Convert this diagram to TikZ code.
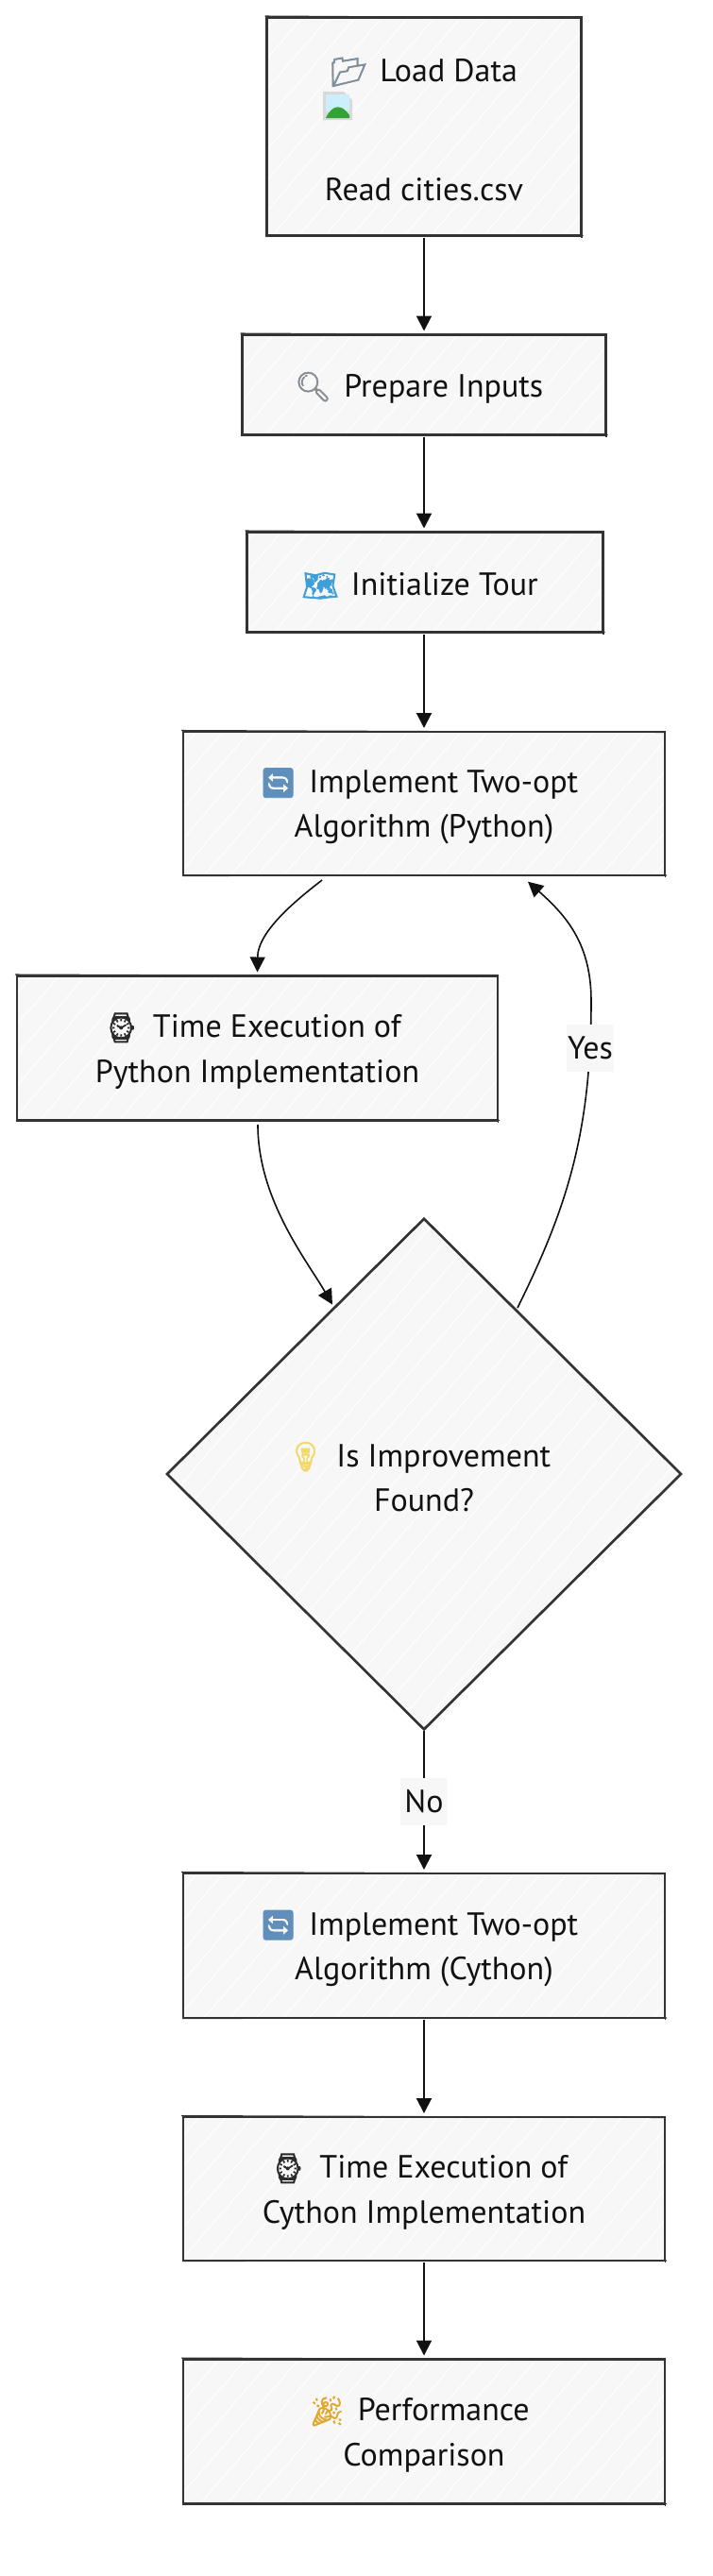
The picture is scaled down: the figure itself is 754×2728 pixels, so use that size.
\documentclass[tikz,border=0pt]{standalone}
\usepackage{fontspec}
\setmainfont{PT Sans}
\newfontfamily\emo[FakeBold=2.5]{Noto Emoji}
\usetikzlibrary{shapes.geometric,arrows.meta,calc}
\definecolor{boxfill}{HTML}{F7F7F7}
\definecolor{boxline}{HTML}{333333}
\definecolor{ink}{HTML}{111111}
\definecolor{folderc}{HTML}{7F8F9C}
\definecolor{lensc}{HTML}{8A8F96}
\definecolor{mapc}{HTML}{3F9FD8}
\definecolor{cyclec}{HTML}{5F8FBA}
\definecolor{watchc}{HTML}{2B2B2B}
\definecolor{bulbc}{HTML}{F2D86A}
\definecolor{partyc}{HTML}{E0A92E}
\newcommand{\emj}[2]{\rule{0pt}{24pt}{\emo\fontsize{23pt}{35pt}\selectfont\color{#1}#2}\hspace{10pt}}
\newcommand{\tailgap}{\hspace*{8pt}}
\newcommand{\hatchlines}{%
  \begin{scope}[shift={(path picture bounding box.center)}]
    \foreach \d in {-640,-612,...,640}
      \draw[white,line width=0.8pt] (\d-260,300) -- (\d+260,-300);
  \end{scope}}
\newcommand{\rough}[1]{%
  \draw[roughline] ([shift={(-2,-1.5)}]#1.north west) -- ([shift={(1,0.5)}]#1.north east);
  \draw[roughline] ([shift={(-1,0.5)}]#1.south west) -- ([shift={(2,0)}]#1.south east);
  \draw[roughline] ([shift={(-0.5,-1)}]#1.north west) -- ([shift={(-0.5,1)}]#1.south west);
  \draw[roughline] ([shift={(0.5,-1)}]#1.north east) -- ([shift={(0.5,2)}]#1.south east);}
\tikzset{
  roughline/.style={draw=boxline,line width=0.8pt},
  flowbox/.style={rectangle,draw=boxline,line width=1.7pt,fill=boxfill,align=center,
    inner sep=0pt,outer sep=0pt,text=ink,path picture={\hatchlines}},
  decision/.style={diamond,aspect=1,draw=boxline,line width=2pt,fill=boxfill,align=center,
    inner sep=0pt,outer sep=0pt,text=ink,minimum width=408pt,minimum height=405.5pt,path picture={\hatchlines}},
  flow/.style={draw=ink,line width=1.5pt,-{Triangle[length=12pt,width=12pt]},shorten >=3pt},
  curveflow/.style={flow,line width=1.2pt},
  edgelabel/.style={fill=boxfill,text=ink,inner sep=0pt,minimum width=37pt,minimum height=37pt}
}
\newcommand{\bx}[6]{\node[flowbox,minimum width=#4*0.75pt,minimum height=#5*0.75pt] (#1) at (#2,#3) {#6};\rough{#1}}
\begin{document}
\begin{tikzpicture}[x=0.75pt,y=-0.75pt,font=\fontsize{25.5pt}{35.5pt}\selectfont]
\path[use as bounding box,fill=white] (0,0) rectangle (754,2728);

\bx{load}{449}{134}{333}{231}{\emj{folderc}{📂}Load Data\\[59pt]Read cities.csv}
\bx{prep}{449}{407.5}{385}{106}{\emj{lensc}{🔍}Prepare Inputs\tailgap}
\bx{init}{450}{616.5}{377}{106}{\emj{mapc}{🗺}Initialize Tour\tailgap}
\bx{implpy}{449}{851}{510}{152}{\emj{cyclec}{🔄}Implement Two-opt\tailgap\\Algorithm (Python)}
\bx{timepy}{272.5}{1110}{509}{153}{\emj{watchc}{⌚}Time Execution of\tailgap\\Python Implementation}
\node[decision] (dec) at (449,1561) {\emj{bulbc}{💡}Is Improvement\tailgap\\Found?};
\bx{implcy}{449}{2060.5}{510}{153}{\emj{cyclec}{🔄}Implement Two-opt\tailgap\\Algorithm (Cython)}
\bx{timecy}{449}{2318}{510}{152}{\emj{watchc}{⌚}Time Execution of\tailgap\\Cython Implementation}
\bx{perf}{449}{2575}{510}{153}{\emj{partyc}{🎉}Performance\tailgap\\Comparison}

% broken-image icon
\fill[gray!30] (342,97) -- (364,97) -- (373,106) -- (373,127) -- (342,127) -- cycle;
\fill[cyan!20!white] (345,100) rectangle (370,118);
\fill[green!55!black!80] (345,125) .. controls (352,110) and (362,110) .. (370,122) -- (370,125) -- cycle;

\coordinate (outA) at (341,932);
\coordinate (outB) at (273,1191);
\coordinate (inB) at (354,1385);
\coordinate (outC) at (548,1385);
\coordinate (inC) at (556,931);

\draw[flow,shorten <=1.5pt] (load.south) -- (prep.north);
\draw[flow,shorten <=1.5pt] (prep.south) -- (init.north -| prep.south);
\draw[flow,shorten <=1.5pt] (init.south -| implpy.north) -- (implpy.north);
\draw[curveflow] (outA) .. controls (318,950) and (273,985) .. (timepy.north);
\draw[curveflow] (outB) .. controls (273,1270) and (325,1335) .. (inB);
\draw[curveflow] (outC) .. controls (600,1280) and (626,1200) .. (626,1060) .. controls (626,1000) and (600,970) .. (inC);
\draw[flow,shorten <=1pt] (dec.south) -- (implcy.north);
\draw[flow,shorten <=1.5pt] (implcy.south) -- (timecy.north);
\draw[flow,shorten <=1.5pt] (timecy.south) -- (perf.north);

\node[edgelabel] (yes) at (625,1110) {Yes};
\node[edgelabel] (no) at (449,1908) {No};
\end{tikzpicture}
\end{document}
